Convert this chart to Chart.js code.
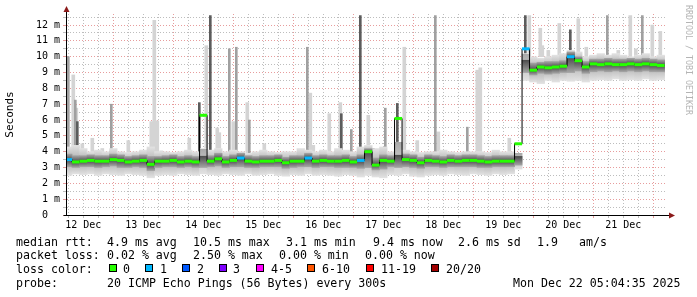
<!DOCTYPE html>
<html>
<head>
<meta charset="utf-8">
<script src="https://cdn.jsdelivr.net/npm/chart.js@4.4.1/dist/chart.umd.min.js"></script>
<style>
body { margin: 0; background: #fff; }
#wrap { position: relative; width: 697px; height: 297px; font-family: 'DejaVu Sans Mono', monospace; color: #000; overflow: hidden; }
#chart { position: absolute; left: 0; top: 0; }
.t { position: absolute; font-size: 11.6px; line-height: 14px; white-space: pre; }
.box { position: absolute; width: 6px; height: 6px; border: 1px solid #000; top: 264px; }
#wm { position: absolute; left: 684px; top: 5px; writing-mode: vertical-rl; font-size: 8.3px; color: #b4b4b4; }
</style>
</head>
<body>
<div id="wrap">
	<canvas id="chart" width="697" height="297"></canvas>
	<div id="wm">RRDTOOL / TOBI OETIKER</div>

	<!-- legend below the graph -->
	<div class="t" style="left:16px;top:235px">median rtt:</div>
	<div class="t" style="left:107px;top:235px">4.9 ms avg</div>
	<div class="t" style="left:193px;top:235px">10.5 ms max</div>
	<div class="t" style="left:286px;top:235px">3.1 ms min</div>
	<div class="t" style="left:373px;top:235px">9.4 ms now</div>
	<div class="t" style="left:458px;top:235px">2.6 ms sd</div>
	<div class="t" style="left:537px;top:235px">1.9</div>
	<div class="t" style="left:579px;top:235px">am/s</div>

	<div class="t" style="left:16px;top:248px">packet loss:</div>
	<div class="t" style="left:107px;top:248px">0.02 % avg</div>
	<div class="t" style="left:193px;top:248px">2.50 % max</div>
	<div class="t" style="left:279px;top:248px">0.00 % min</div>
	<div class="t" style="left:365px;top:248px">0.00 % now</div>

	<div class="t" style="left:16px;top:262px">loss color:</div>
	<div class="box" style="left:109px;background:#26ff00"></div><div class="t" style="left:123px;top:262px">0</div>
	<div class="box" style="left:145px;background:#00b8ff"></div><div class="t" style="left:160px;top:262px">1</div>
	<div class="box" style="left:182px;background:#0059ff"></div><div class="t" style="left:197px;top:262px">2</div>
	<div class="box" style="left:219px;background:#7e00ff"></div><div class="t" style="left:233px;top:262px">3</div>
	<div class="box" style="left:256px;background:#ff00ff"></div><div class="t" style="left:271px;top:262px">4-5</div>
	<div class="box" style="left:307px;background:#ff5500"></div><div class="t" style="left:322px;top:262px">6-10</div>
	<div class="box" style="left:366px;background:#ff0000"></div><div class="t" style="left:381px;top:262px">11-19</div>
	<div class="box" style="left:431px;background:#a10000"></div><div class="t" style="left:446px;top:262px">20/20</div>

	<div class="t" style="left:16px;top:276px">probe:</div>
	<div class="t" style="left:107px;top:276px">20 ICMP Echo Pings (56 Bytes) every 300s</div>
	<div class="t" style="left:513px;top:276px">Mon Dec 22 05:04:35 2025</div>
</div>

<script>
// time: hours since 12 Dec 00:00, one sample every 3 hours
const startHour = 6;
const stepHours = 3;
const dayLabels = ['12 Dec', '13 Dec', '14 Dec', '15 Dec', '16 Dec', '17 Dec', '18 Dec', '19 Dec', '20 Dec', '21 Dec'];

// median rtt (ms)
const medianRtt = [
	3.5, 3.35, 3.4, 3.45, 3.4, 3.4, 3.5, 3.45, 3.35, 3.4, 3.45, 3.2, 3.4, 3.4, 3.45, 3.35, 3.4, 3.35, 6.3, 3.4,
	3.55, 3.35, 3.45, 3.6, 3.4, 3.35, 3.4, 3.4, 3.45, 3.3, 3.4, 3.4, 3.6, 3.4, 3.45, 3.4, 3.4, 3.45, 3.35, 3.45,
	4.0, 3.15, 3.45, 3.4, 6.1, 3.5, 3.45, 3.3, 3.45, 3.4, 3.35, 3.45, 3.4, 3.45, 3.45, 3.4, 3.35, 3.4, 3.4, 3.4,
	4.5, 10.5, 9.15, 9.35, 9.3, 9.35, 9.4, 10.0, 9.75, 9.35, 9.55, 9.5, 9.55, 9.5, 9.5, 9.55, 9.5, 9.55, 9.5, 9.45
];
// lost pings out of 20
const lossPings = [
	1, 0, 0, 0, 0, 0, 0, 0, 0, 0, 0, 0, 0, 0, 0, 0, 0, 0, 0, 0,
	0, 0, 0, 1, 0, 0, 0, 0, 0, 0, 0, 0, 1, 0, 0, 0, 0, 0, 0, 1,
	0, 0, 0, 0, 0, 0, 0, 0, 0, 0, 0, 0, 0, 0, 0, 0, 0, 0, 0, 0,
	0, 1, 0, 0, 0, 0, 0, 1, 0, 0, 0, 0, 0, 0, 0, 0, 0, 0, 0, 0
];
// smoke: outer range of the pings
const smokeLow = [
	2.5, 2.6, 2.55, 2.6, 2.5, 2.6, 2.55, 2.5, 2.6, 2.55, 2.5, 2.35, 2.5, 2.55, 2.5, 2.6, 2.55, 2.5, 2.6, 2.55,
	2.5, 2.6, 2.55, 2.5, 2.6, 2.5, 2.55, 2.6, 2.5, 2.45, 2.55, 2.5, 2.6, 2.5, 2.55, 2.5, 2.45, 2.55, 2.5, 2.4,
	2.5, 2.4, 2.35, 2.55, 2.5, 2.6, 2.45, 2.4, 2.5, 2.55, 2.5, 2.6, 2.55, 2.5, 2.6, 2.55, 2.5, 2.6, 2.55, 2.6,
	2.9, 8.5, 8.4, 8.3, 8.5, 8.4, 8.5, 8.45, 8.5, 8.4, 8.5, 8.55, 8.5, 8.6, 8.5, 8.55, 8.5, 8.6, 8.5, 8.55
];
const smokeHigh = [
	4.3, 4.4, 4.2, 4.0, 4.1, 4.0, 4.2, 4.0, 3.95, 4.0, 4.1, 4.3, 4.0, 4.0, 3.95, 4.0, 4.1, 4.0, 4.2, 4.1,
	4.2, 4.0, 4.1, 4.0, 3.9, 4.0, 4.1, 4.0, 3.95, 4.0, 4.0, 4.2, 4.1, 4.0, 4.1, 4.0, 4.2, 4.1, 4.0, 4.3,
	4.4, 4.2, 4.3, 4.0, 4.6, 4.1, 4.0, 3.95, 4.0, 4.0, 4.1, 4.0, 3.95, 4.0, 4.0, 4.0, 3.95, 4.1, 4.0, 4.0,
	3.9, 10.2, 10.0, 9.9, 10.0, 10.1, 10.2, 10.4, 10.3, 10.0, 10.1, 10.2, 10.1, 10.2, 10.1, 10.0, 10.1, 10.2, 10.0, 10.1
];
// smoke: dense middle of the pings
const coreLow = [
	3.05, 3.0, 3.05, 3.05, 3.0, 3.05, 3.1, 3.0, 3.0, 3.05, 3.0, 2.8, 3.0, 3.05, 3.05, 3.0, 3.05, 3.0, 3.0, 3.05,
	3.1, 3.0, 3.05, 3.05, 3.0, 3.0, 3.05, 3.05, 3.05, 2.95, 3.0, 3.05, 3.05, 3.0, 3.05, 3.05, 3.0, 3.0, 3.0, 2.95,
	3.0, 2.85, 2.9, 3.05, 3.0, 3.05, 3.0, 2.95, 3.05, 3.05, 3.0, 3.05, 3.05, 3.05, 3.05, 3.0, 3.0, 3.05, 3.05, 3.05,
	3.15, 9.0, 8.85, 8.95, 8.9, 8.95, 9.0, 9.0, 9.1, 8.95, 9.05, 9.1, 9.05, 9.1, 9.05, 9.1, 9.05, 9.1, 9.05, 9.05
];
const coreHigh = [
	3.85, 3.75, 3.75, 3.8, 3.75, 3.75, 3.85, 3.8, 3.7, 3.75, 3.8, 3.7, 3.7, 3.75, 3.8, 3.7, 3.75, 3.7, 3.75, 3.75,
	3.9, 3.7, 3.8, 3.9, 3.75, 3.7, 3.75, 3.75, 3.8, 3.65, 3.75, 3.75, 3.9, 3.75, 3.8, 3.75, 3.75, 3.8, 3.7, 3.8,
	4.2, 3.6, 3.8, 3.75, 3.8, 3.85, 3.8, 3.65, 3.8, 3.75, 3.7, 3.8, 3.75, 3.8, 3.8, 3.75, 3.7, 3.75, 3.75, 3.75,
	3.7, 9.8, 9.6, 9.65, 9.7, 9.7, 9.75, 10.3, 10.0, 9.7, 9.85, 9.85, 9.9, 9.85, 9.85, 9.9, 9.85, 9.9, 9.85, 9.8
];
// single slow pings: [hour, from, to]
const lightSpikes = [
	[8, 3.9, 8.85], [9.2, 3.9, 6.75], [11.6, 3.9, 4.5], [15.6, 3.9, 4.85], [19.6, 3.9, 4.2], [30, 3.9, 4.7],
	[39.2, 3.9, 5.9], [40.4, 3.9, 12.3], [41.6, 3.9, 5.95], [43.2, 3.9, 4.05], [54.4, 3.9, 4.85], [61.2, 3.9, 10.7],
	[65.6, 3.9, 5.5], [66.4, 3.9, 5.2], [72, 3.9, 5.9], [77.6, 3.9, 7.1], [84.4, 3.9, 4.5], [102.8, 3.9, 7.7],
	[104, 3.9, 4.4], [110.4, 3.9, 6.4], [114.8, 3.9, 7.1], [126, 3.9, 6.3], [140.4, 3.9, 10.6], [145.6, 3.9, 4.7],
	[154, 3.9, 5.25], [169.6, 3.9, 9.15], [170.8, 3.9, 9.3], [182.4, 3.9, 4.85], [190.4, 10, 12.6], [194.8, 10, 11.8],
	[195.6, 10, 10.7], [198, 10, 10.4], [202.4, 10, 12.1], [210, 10, 12.4], [213.2, 10, 10.6], [226, 10, 10.4],
	[230.8, 10, 12.6], [233, 10, 10.5], [239.6, 10, 12.0], [242.8, 10, 11.6]
];
const midSpikes = [
	[6, 3.9, 10.0], [8.8, 3.9, 7.26], [23.2, 3.9, 7.0], [70.4, 3.9, 10.5], [73.2, 3.9, 10.6], [78.4, 3.9, 6.0],
	[101.6, 3.9, 10.6], [119.2, 3.9, 5.4], [132.8, 3.9, 6.75], [152.8, 3.9, 12.6], [165.6, 3.9, 5.55],
	[221.6, 10, 12.6], [235.6, 10, 12.6]
];
const darkSpikes = [
	[9.6, 3.9, 5.9], [58.4, 3.5, 7.1], [62.8, 3.9, 12.6], [115.2, 3.9, 6.4], [122.8, 3.9, 12.6],
	[128, 3.9, 4.2], [137.6, 3.5, 7.05], [188.8, 10, 12.6], [206.8, 10, 11.7]
];

const lossColors = ['#26ff00', '#00b8ff', '#0059ff', '#7e00ff'];
const redGrid = 'rgba(215, 90, 90, 0.6)';
const grayGrid = '#bdbdbd';

const hours = medianRtt.map((v, i) => startHour + i * stepHours);
const band = (lo, hi) => lo.map((v, i) => ({ x: hours[i], y: [v, hi[i]] }));
const spikes = list => list.map(s => ({ x: s[0], y: [s[1], s[2]] }));
const medianPts = medianRtt.map((v, i) => ({ x: hours[i], y: v }));

const xTicks = [];
for (let h = 6; h <= 240; h += 6) xTicks.push(h);
const yTicks = [];
for (let v = 0; v <= 12.5; v += 0.5) yTicks.push(v);

// smoke gets darker towards the median, like smokeping does
function smokeFill(lo, hi, edge, mid) {
	return function(c) {
		const chart = c.chart, area = chart.chartArea;
		if (!area || c.dataIndex === undefined) return edge;
		const y = chart.scales.y, i = c.dataIndex;
		const top = y.getPixelForValue(hi[i]), bot = y.getPixelForValue(lo[i]);
		if (!(bot > top)) return mid;
		const m = Math.min(1, Math.max(0, (y.getPixelForValue(medianRtt[i]) - top) / (bot - top)));
		const g = chart.ctx.createLinearGradient(0, top, 0, bot);
		g.addColorStop(0, edge);
		g.addColorStop(m, mid);
		g.addColorStop(1, edge);
		return g;
	};
}

// axis arrows like rrdtool
const arrows = {
	id: 'arrows',
	afterDraw(chart) {
		const { ctx, chartArea: a } = chart;
		const x0 = Math.round(a.left) + 0.5, y0 = Math.round(a.bottom) + 0.5;
		ctx.save();
		ctx.strokeStyle = '#000';
		ctx.lineWidth = 1;
		ctx.setLineDash([]);
		ctx.beginPath();
		ctx.moveTo(x0, y0); ctx.lineTo(x0, 10);
		ctx.moveTo(x0 - 3, y0); ctx.lineTo(670, y0);
		ctx.stroke();
		ctx.fillStyle = '#8b1a1a';
		ctx.beginPath();
		ctx.moveTo(x0, 6); ctx.lineTo(x0 - 3, 12); ctx.lineTo(x0 + 3, 12); ctx.closePath();
		ctx.fill();
		ctx.beginPath();
		ctx.moveTo(675, y0); ctx.lineTo(669, y0 - 3); ctx.lineTo(669, y0 + 3); ctx.closePath();
		ctx.fill();
		ctx.restore();
	}
};

new Chart(document.getElementById('chart'), {
	type: 'bar',
	data: {
		datasets: [
			{ data: spikes(lightSpikes), backgroundColor: '#d4d4d4', barThickness: 3, grouped: false, order: 10 },
			{ data: spikes(midSpikes), backgroundColor: '#a0a0a0', barThickness: 2, grouped: false, order: 9 },
			{ data: spikes(darkSpikes), backgroundColor: '#5c5c5c', barThickness: 2, grouped: false, order: 8 },
			{
				data: band(smokeLow, smokeHigh), backgroundColor: smokeFill(smokeLow, smokeHigh, '#e2e2e2', '#a8a8a8'),
				barThickness: 7.6, grouped: false, order: 7
			},
			{
				data: band(coreLow, coreHigh), backgroundColor: smokeFill(coreLow, coreHigh, '#a4a4a4', '#4a4a4a'),
				barThickness: 7.6, grouped: false, order: 6
			},
			{
				type: 'line', data: medianPts, stepped: 'middle', borderColor: '#000', borderWidth: 1,
				pointRadius: 0, order: 2
			},
			{
				type: 'line', data: medianPts, showLine: false, pointStyle: 'line', pointRadius: 3.8,
				pointBorderWidth: 3,
				pointBorderColor: c => lossColors[lossPings[c.dataIndex]] || '#26ff00',
				order: 1
			}
		]
	},
	options: {
		responsive: false,
		animation: false,
		devicePixelRatio: 1,
		layout: { padding: { top: 14, right: 31, bottom: 62, left: 0 } },
		plugins: { legend: { display: false }, tooltip: { enabled: false } },
		scales: {
			x: {
				type: 'linear',
				min: 5.08,
				max: 245.08,
				offset: false,
				afterFit: s => { s.height = 20; },
				afterBuildTicks: s => { s.ticks = xTicks.map(v => ({ value: v })); },
				grid: {
					offset: false,
					color: c => c.tick && c.tick.value % 24 === 0 ? redGrid : grayGrid,
					tickColor: c => c.tick && c.tick.value % 24 === 0 ? redGrid : grayGrid,
					tickLength: 3
				},
				border: { color: '#000', width: 1, dash: [1, 2] },
				ticks: {
					autoSkip: false,
					maxRotation: 0,
					padding: 1,
					color: '#000',
					font: { family: 'DejaVu Sans Mono', size: 10 },
					callback: v => v % 24 === 12 ? dayLabels[(v - 12) / 24] : ''
				}
			},
			y: {
				min: 0,
				max: 12.7,
				afterFit: s => { s.width = 66; },
				afterBuildTicks: s => { s.ticks = yTicks.map(v => ({ value: v })); },
				grid: {
					color: c => c.tick && Number.isInteger(c.tick.value) ? redGrid : grayGrid,
					tickColor: c => c.tick && Number.isInteger(c.tick.value) ? redGrid : grayGrid,
					tickLength: 3
				},
				border: { color: '#000', width: 1, dash: [1, 2] },
				title: {
					display: true,
					text: 'Seconds',
					color: '#000',
					font: { family: 'DejaVu Sans Mono', size: 11 },
					padding: { top: 4, bottom: 0 }
				},
				ticks: {
					autoSkip: false,
					padding: 3,
					color: '#000',
					font: { family: 'DejaVu Sans Mono', size: 10 },
					callback: v => Number.isInteger(v) ? (v === 0 ? '0  ' : v + ' m') : ''
				}
			}
		}
	},
	plugins: [arrows]
});
</script>
</body>
</html>
